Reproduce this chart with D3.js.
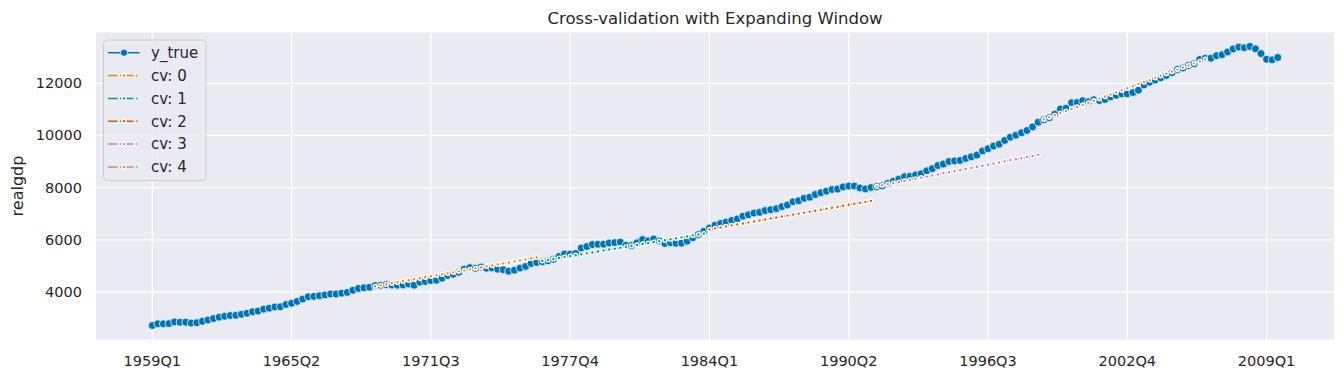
<!DOCTYPE html>
<html>
<head>
<meta charset="utf-8">
<script src="https://cdn.jsdelivr.net/npm/d3@7"></script>
<style>
  body { margin: 0; background: #fff; }
  text { font-family: "DejaVu Sans", sans-serif; fill: #262626; }
</style>
</head>
<body>
<script>
// realgdp, quarterly, 1959Q1 .. 2009Q3
const yTrue = [
  2710, 2779, 2775, 2785, 2848, 2834, 2839, 2803, 2819, 2872, 2918, 2978,
  3031, 3065, 3093, 3101, 3141, 3180, 3240, 3265, 3338, 3377, 3422, 3432,
  3516, 3564, 3636, 3724, 3815, 3828, 3853, 3885, 3919, 3920, 3951, 3981,
  4063, 4132, 4160, 4178, 4244, 4256, 4283, 4263, 4257, 4264, 4302, 4257,
  4374, 4399, 4434, 4446, 4526, 4633, 4678, 4755, 4876, 4933, 4906, 4953,
  4910, 4922, 4874, 4854, 4795, 4832, 4913, 4978, 5091, 5129, 5154, 5191,
  5252, 5356, 5452, 5451, 5469, 5685, 5740, 5816, 5826, 5831, 5873, 5889,
  5908, 5787, 5777, 5883, 6006, 5958, 6030, 5955, 5857, 5889, 5866, 5871,
  5944, 6078, 6197, 6326, 6448, 6560, 6623, 6677, 6740, 6797, 6904, 6956,
  7023, 7051, 7119, 7153, 7193, 7270, 7333, 7458, 7497, 7593, 7632, 7734,
  7807, 7865, 7927, 7945, 8028, 8060, 8059, 7989, 7950, 8004, 8038, 8069,
  8158, 8244, 8329, 8417, 8432, 8486, 8531, 8644, 8728, 8847, 8904, 9003,
  9025, 9045, 9121, 9184, 9247, 9407, 9489, 9592, 9666, 9810, 9933, 10009,
  10103, 10194, 10329, 10508, 10601, 10684, 10820, 11014, 11043, 11258, 11268, 11335,
  11297, 11371, 11340, 11380, 11478, 11539, 11596, 11599, 11646, 11739, 11935, 12043,
  12128, 12214, 12304, 12410, 12534, 12588, 12683, 12749, 12916, 12962, 12966, 13061,
  13100, 13204, 13321, 13391, 13367, 13415, 13325, 13142, 12925, 12902, 12990
];

// forecast folds (start index into the quarter axis + predicted values)
const cvStarts = [40, 70, 100, 130, 160];
const cv0 = [4217, 4255, 4293, 4331, 4369, 4408, 4446, 4484, 4522, 4560,
  4598, 4636, 4674, 4712, 4750, 4789, 4827, 4865, 4903, 4941,
  4979, 5017, 5055, 5093, 5131, 5170, 5208, 5246, 5284, 5322];
const cv1 = [5192, 5228, 5264, 5300, 5336, 5372, 5408, 5444, 5480, 5516,
  5552, 5588, 5624, 5660, 5696, 5732, 5768, 5804, 5840, 5876,
  5912, 5948, 5984, 6020, 6056, 6092, 6128, 6164, 6200, 6236];
const cv2 = [6400, 6438, 6475, 6513, 6551, 6588, 6626, 6664, 6702, 6739,
  6777, 6815, 6852, 6890, 6928, 6965, 7003, 7041, 7079, 7116,
  7154, 7192, 7229, 7267, 7305, 7342, 7380, 7418, 7455, 7493];
const cv3 = [8050, 8092, 8133, 8175, 8216, 8258, 8300, 8341, 8383, 8424,
  8466, 8508, 8549, 8591, 8633, 8674, 8716, 8757, 8799, 8841,
  8882, 8924, 8965, 9007, 9049, 9090, 9132, 9173, 9215, 9257];
const cv4 = [10617, 10697, 10776, 10856, 10936, 11015, 11095, 11174, 11254, 11334,
  11413, 11493, 11573, 11652, 11732, 11811, 11891, 11971, 12050, 12130,
  12210, 12289, 12369, 12448, 12528, 12608, 12687, 12767, 12847, 12926];
const cvValues = [cv0, cv1, cv2, cv3, cv4];
const cvNames = ["cv: 0", "cv: 1", "cv: 2", "cv: 3", "cv: 4"];

const xTickLabels = ["1959Q1", "1965Q2", "1971Q3", "1977Q4", "1984Q1", "1990Q2", "1996Q3", "2002Q4", "2009Q1"];
const yTicks = [4000, 6000, 8000, 10000, 12000];

const palette = ["#0173b2", "#de8f05", "#029e73", "#d55e00", "#cc78bc", "#ca9161"];

// quarter labels for the index axis
const quarters = [];
for (let yr = 1959; quarters.length < yTrue.length; yr++) {
  for (let q = 1; q <= 4 && quarters.length < yTrue.length; q++) quarters.push(yr + "Q" + q);
}

const W = 1344, H = 378;
const mLeft = 96, mRight = 1334, mTop = 32.5, mBottom = 339.5;

const svg = d3.select("body").append("svg")
  .attr("width", W)
  .attr("height", H);

const n = yTrue.length - 1;
const x = d3.scaleLinear().domain([-0.05 * n, n * 1.05]).range([mLeft, mRight]);
const yMin = 2710, yMax = 13415, pad = (yMax - yMin) * 0.05;
const y = d3.scaleLinear().domain([yMin - pad, yMax + pad]).range([mBottom, mTop]);

svg.append("rect")
  .attr("x", mLeft).attr("y", mTop)
  .attr("width", mRight - mLeft).attr("height", mBottom - mTop)
  .attr("fill", "#eaeaf2");

const xTickPos = xTickLabels.map(l => quarters.indexOf(l));

// grid
svg.append("g").selectAll("line").data(xTickPos).join("line")
  .attr("x1", d => x(d)).attr("x2", d => x(d))
  .attr("y1", mTop).attr("y2", mBottom)
  .attr("stroke", "#fff").attr("stroke-width", 1.25);
svg.append("g").selectAll("line").data(yTicks).join("line")
  .attr("x1", mLeft).attr("x2", mRight)
  .attr("y1", d => y(d)).attr("y2", d => y(d))
  .attr("stroke", "#fff").attr("stroke-width", 1.25);

// tick labels
svg.append("g").selectAll("text").data(xTickPos).join("text")
  .attr("x", d => x(d)).attr("y", 366)
  .attr("text-anchor", "middle")
  .style("font-size", "14.5px")
  .text((d, i) => xTickLabels[i]);
svg.append("g").selectAll("text").data(yTicks).join("text")
  .attr("x", 82).attr("y", d => y(d) + 5)
  .attr("text-anchor", "end")
  .style("font-size", "14.5px")
  .text(d => d);

svg.append("text")
  .attr("transform", "translate(23," + ((mTop + mBottom) / 2) + ") rotate(-90)")
  .attr("text-anchor", "middle")
  .style("font-size", "16px")
  .text("realgdp");

svg.append("text")
  .attr("x", (mLeft + mRight) / 2).attr("y", 23.5)
  .attr("text-anchor", "middle")
  .style("font-size", "16.5px")
  .text("Cross-validation with Expanding Window");

const line = d3.line().x(d => x(d[0])).y(d => y(d[1]));

// y_true
const truePts = yTrue.map((v, i) => [i, v]);
svg.append("path")
  .attr("d", line(truePts))
  .attr("fill", "none")
  .attr("stroke", palette[0]).attr("stroke-width", 1.5);
svg.append("g").selectAll("circle").data(truePts).join("circle")
  .attr("cx", d => x(d[0])).attr("cy", d => y(d[1]))
  .attr("r", 4)
  .attr("fill", palette[0])
  .attr("stroke", "#fff").attr("stroke-width", 0.75);

// folds
cvValues.forEach((vals, k) => {
  const pts = vals.map((v, i) => [cvStarts[k] + i, v]);
  const col = palette[k + 1];
  const g = svg.append("g");
  g.append("path")
    .attr("d", line(pts))
    .attr("fill", "none")
    .attr("stroke", col).attr("stroke-width", 1.5)
    .attr("stroke-dasharray", "9.6,2.4,1.5,2.4");
  g.selectAll("circle").data(pts).join("circle")
    .attr("cx", d => x(d[0])).attr("cy", d => y(d[1]))
    .attr("r", 1.9)
    .attr("fill", col)
    .attr("stroke", "#fff").attr("stroke-width", 1.4);
});

// legend
const lg = svg.append("g");
lg.append("rect")
  .attr("x", 103.5).attr("y", 40)
  .attr("width", 102.5).attr("height", 140.5)
  .attr("rx", 4)
  .attr("fill", "#eaeaf2").attr("fill-opacity", 0.8)
  .attr("stroke", "#cccccc").attr("stroke-width", 1);
const items = ["y_true"].concat(cvNames);
items.forEach((name, i) => {
  const cy = 52.7 + i * 22.85;
  const col = palette[i];
  lg.append("line")
    .attr("x1", 108).attr("x2", 139.5)
    .attr("y1", cy).attr("y2", cy)
    .attr("stroke", col).attr("stroke-width", 1.5)
    .attr("stroke-dasharray", i === 0 ? null : "9.6,2.4,1.5,2.4");
  lg.append("circle")
    .attr("cx", 124).attr("cy", cy)
    .attr("r", i === 0 ? 3.6 : 1.9)
    .attr("fill", col)
    .attr("stroke", "#fff").attr("stroke-width", i === 0 ? 0.75 : 1.4);
  lg.append("text")
    .attr("x", 151).attr("y", cy + 5.3)
    .style("font-size", "15px")
    .text(name);
});
</script>
</body>
</html>
